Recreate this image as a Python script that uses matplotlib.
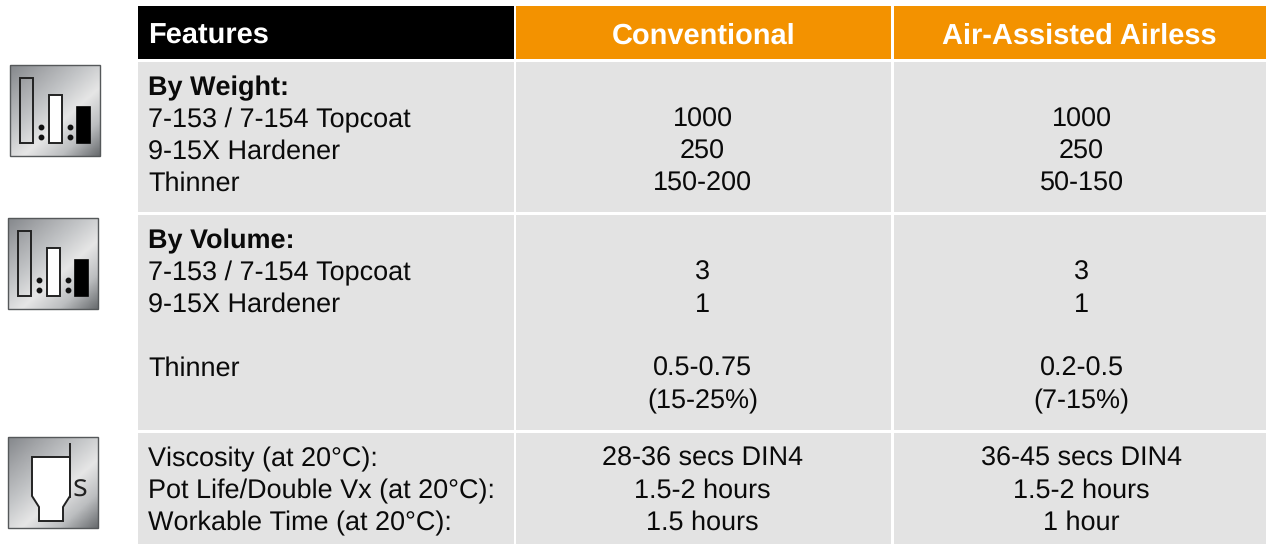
import numpy as np
from matplotlib import pyplot as plt
from matplotlib.patches import Rectangle, Polygon
from matplotlib.colors import LinearSegmentedColormap

plt.rcParams['font.family'] = ['Liberation Sans', 'DejaVu Sans']
plt.rcParams['text.hinting'] = 'no_hinting'
plt.rcParams['text.hinting_factor'] = 1

headers = ["Features", "Conventional", "Air-Assisted Airless"]

weight_title = "By Weight:"
weight_labels = ["7-153 / 7-154 Topcoat", "9-15X Hardener", "Thinner"]
weight_conv = ["1000", "250", "150-200"]
weight_air = ["1000", "250", "50-150"]

volume_title = "By Volume:"
volume_labels = ["7-153 / 7-154 Topcoat", "9-15X Hardener", "", "Thinner", ""]
volume_conv = ["3", "1", "", "0.5-0.75", "(15-25%)"]
volume_air = ["3", "1", "", "0.2-0.5", "(7-15%)"]

misc_labels = ["Viscosity (at 20°C):", "Pot Life/Double Vx (at 20°C):", "Workable Time (at 20°C):"]
misc_conv = ["28-36 secs DIN4", "1.5-2 hours", "1.5 hours"]
misc_air = ["36-45 secs DIN4", "1.5-2 hours", "1 hour"]

orange = "#f39200"
grey = "#e3e3e3"
ink = "#0a0a0a"
fs = 19.2
line_h = 32

col_x = [(138, 513.5), (516, 891), (893.5, 1266)]
row_y = [(62, 211.5), (215, 429.5), (433, 544)]

fig = plt.figure(figsize=(12.66, 5.44), dpi=100)
ax = fig.add_axes([0, 0, 1, 1])
ax.set_xlim(0, 1266)
ax.set_ylim(544, 0)
ax.axis("off")

# header
for (x0, x1), c in zip(col_x, ["black", orange, orange]):
    ax.add_patch(Rectangle((x0, 6), x1 - x0, 53, color=c, lw=0))
ax.text(148.5, 44, headers[0], color="white", weight="bold", fontsize=21, va="baseline")
for (x0, x1), name in zip(col_x[1:], headers[1:]):
    ax.text((x0 + x1) / 2, 43.4, name, color="white", weight="bold", fontsize=21,
            ha="center", va="baseline")

# body cells
for y0, y1 in row_y:
    for x0, x1 in col_x:
        ax.add_patch(Rectangle((x0, y0), x1 - x0, y1 - y0, color=grey, lw=0))


def put_rows(y, labels, conv, air):
    for i, (a, b, c) in enumerate(zip(labels, conv, air)):
        yy = y + i * line_h
        ax.text(148.5, yy, a, fontsize=fs, color=ink, va="baseline")
        ax.text(702.5, yy, b, fontsize=fs, color=ink, ha="center", va="baseline")
        ax.text(1081.5, yy, c, fontsize=fs, color=ink, ha="center", va="baseline")


ax.text(148.5, 95, weight_title, fontsize=fs, weight="bold", color=ink, va="baseline")
put_rows(127, weight_labels, weight_conv, weight_air)
ax.text(148.5, 248, volume_title, fontsize=fs, weight="bold", color=ink, va="baseline")
put_rows(280, volume_labels, volume_conv, volume_air)
put_rows(466, misc_labels, misc_conv, misc_air)

# brushed metal background for the icons
metal = LinearSegmentedColormap.from_list(
    "metal", ["#85888c", "#a6a8ab", "#c4c6c8", "#e6e6e6", "#bcbec0", "#696c6f"])


def metal_box(x, y, w, h):
    gx, gy = np.meshgrid(np.linspace(0, 1, 80), np.linspace(0, 1, 80))
    grad = (gx * 0.75 + gy * 0.85) / 1.6
    ax.imshow(grad, cmap=metal, extent=(x, x + w, y + h, y), aspect="auto", zorder=2)
    ax.add_patch(Rectangle((x, y), w, h, fill=False, ec="#55585a", lw=1, zorder=3))


def ratio_icon(x, y):
    metal_box(x, y, 90, 91)
    ax.add_patch(Rectangle((x + 10, y + 13), 13, 65, fill=False, ec="#222222", lw=1.4, zorder=4))
    ax.add_patch(Rectangle((x + 39, y + 30), 13, 48, fc="white", ec="#222222", lw=1.4, zorder=4))
    ax.add_patch(Rectangle((x + 67, y + 42), 13, 36, fc="black", ec="black", lw=1.2, zorder=4))
    for dx in (x + 31, x + 60):
        ax.plot([dx, dx], [y + 62, y + 72], ls="", marker="o", ms=3.2, color="#111111", zorder=4)


def cup_icon(x, y):
    metal_box(x, y, 90, 91)
    cup = [(x + 24, y + 20), (x + 62, y + 20), (x + 62, y + 59), (x + 55, y + 70), (x + 55, y + 84),
           (x + 31, y + 84), (x + 31, y + 70), (x + 24, y + 59)]
    ax.add_patch(Polygon(cup, closed=True, fc="white", ec="#222222", lw=1.4, zorder=4))
    ax.plot([x + 62, x + 62], [y + 7, y + 60], color="#222222", lw=1.4, zorder=4)
    ax.text(x + 72, y + 60, "s", fontsize=22, color="#222222", ha="center", va="baseline", zorder=4,
            family="Open Sans")


ratio_icon(10, 65)
ratio_icon(8, 218)
cup_icon(8, 437)

ax.set_xlim(0, 1266)
ax.set_ylim(544, 0)
fig.savefig("out.png", dpi=100)
